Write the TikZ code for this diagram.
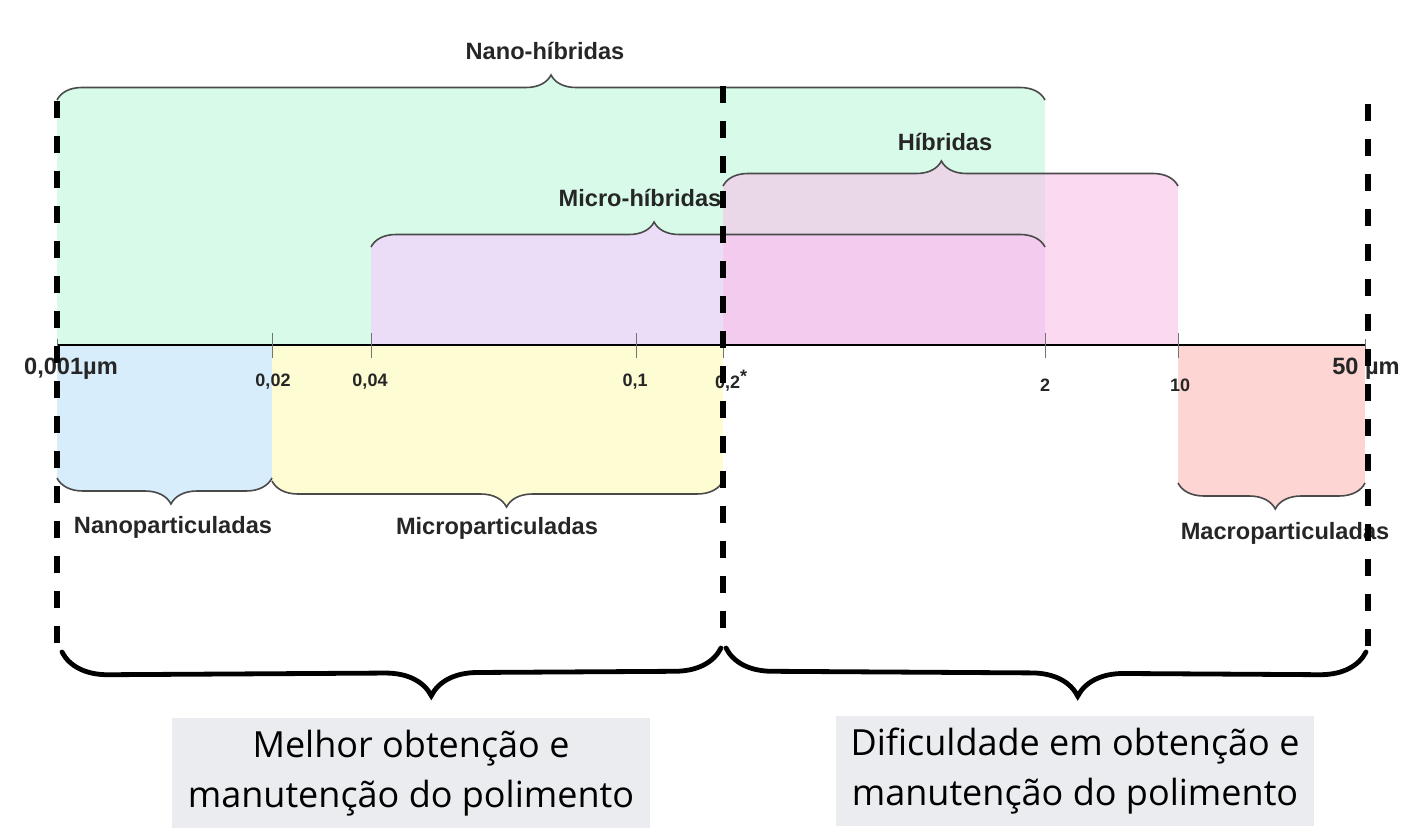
\documentclass[tikz,border=0pt]{standalone}
\usepackage{fontspec}
\setmainfont{Liberation Sans}
\newfontfamily\notefont{Open Sans}
\usepackage{xcolor}
\usetikzlibrary{decorations.pathreplacing, positioning}

\definecolor{nanofill}{HTML}{D8FBE9}
\definecolor{microfill}{HTML}{EBDDF8}
\definecolor{hibfill}{HTML}{F7C0E8}
\definecolor{nanopfill}{HTML}{D8EDFB}
\definecolor{micropfill}{HTML}{FEFCD3}
\definecolor{macropfill}{HTML}{FDD5D2}
\definecolor{notegray}{HTML}{EBECEF}
\definecolor{bracegray}{HTML}{4A4A4A}

\begin{document}
\begin{tikzpicture}[x=0.5pt, y=-0.5pt,
    every node/.style={font=\bfseries\fontsize{11.8}{13}\selectfont, text=black!85, inner sep=0pt},
    upbrace/.style={decorate, decoration={brace, amplitude=12.5pt, aspect=#1}},
    upbrace/.default=0.5,
    downbrace/.style={decorate, decoration={brace, mirror, amplitude=13pt, aspect=#1}},
    downbrace/.default=0.52,
    bracestroke/.style={draw=bracegray, line width=0.8pt},
    tick/.style={draw=black!55, line width=0.5pt},
    ticklabel/.style={font=\bfseries\fontsize{9}{10}\selectfont},
    divider/.style={line width=3pt, dash pattern=on 8.5pt off 9pt},
    bigbrace/.style={line width=2.4pt, line cap=round, decorate,
      decoration={brace, mirror, amplitude=23pt, aspect=#1}},
    note/.style={fill=notegray, minimum width=239pt, minimum height=55pt, align=center,
      text=black, font=\notefont\fontsize{18}{25}\selectfont},
  ]
  \useasboundingbox (0,0) rectangle (1416,834);

  % axis points
  \coordinate (a001) at (57,345);
  \coordinate (a002) at (272,345);
  \coordinate (a004) at (371,345);
  \coordinate (a01) at (636,345);
  \coordinate (a02) at (723,345);
  \coordinate (a2) at (1045,345);
  \coordinate (a10) at (1178,345);
  \coordinate (a50) at (1365,345);

  % ranges above the axis
  \fill[nanofill, upbrace] (57,100) -- (1045,100);
  \fill[nanofill] (57,100) rectangle (a2);
  \fill[microfill, upbrace=0.42] (371,247) -- (1045,247);
  \fill[microfill] (371,247) rectangle (a2);
  \fill[hibfill, fill opacity=0.6, upbrace=0.48] (723,186) -- (1178,186);
  \fill[hibfill, fill opacity=0.6] (723,186) rectangle (a10);

  % ranges below the axis
  \fill[nanopfill, downbrace=0.53] (57,478) -- (272,478);
  \fill[nanopfill] (a001) rectangle (272,478);
  \fill[micropfill, downbrace] (272,481) -- (723,481);
  \fill[micropfill] (a002) rectangle (723,481);
  \fill[macropfill, downbrace] (1178,483) -- (1365,483);
  \fill[macropfill] (a10) rectangle (1365,483);

  % braces
  \draw[bracestroke, upbrace] (57,100) -- (1045,100);
  \draw[bracestroke, upbrace=0.42] (371,247) -- (1045,247);
  \draw[bracestroke, upbrace=0.48] (723,186) -- (1178,186);
  \draw[bracestroke, downbrace=0.53] (57,478) -- (272,478);
  \draw[bracestroke, downbrace] (272,481) -- (723,481);
  \draw[bracestroke, downbrace] (1178,483) -- (1365,483);

  \node (nanoh) at (545,51) {Nano-híbridas};
  \node (microh) at (640,198) {Micro-híbridas};
  \node (hib) at (945,142) {Híbridas};
  \node (nanop) at (173,527) {Nanoparticuladas};
  \node (microp) at (497,528) {Microparticuladas};
  \node (macrop) at (1285,533) {Macroparticuladas};

  % axis
  \draw[line width=1pt] (a001) -- (a50);
  \foreach \t in {a002,a004,a01,a02,a2,a10}
    \draw[tick] ([yshift=6pt]\t) -- ([yshift=-6.5pt]\t);
  \foreach \t in {a001,a50}
    \draw[tick] ([yshift=3pt]\t) -- ([yshift=-3pt]\t);

  \node (l001) at (71,369) {0,001µm};
  \node[ticklabel] (l002) at (273,382) {0,02};
  \node[ticklabel] (l004) at (370,382) {0,04};
  \node[ticklabel] (l01) at (635,382) {0,1};
  \node[ticklabel] (l02) at (731,381) {0,2\raisebox{3pt}{*}};
  \node[ticklabel] (l2) at (1045,385) {2};
  \node[ticklabel] (l10) at (1180,385) {10};
  \node (l50) at (1366,369) {50 µm};

  % limits
  \coordinate (d1t) at (57,101);
  \coordinate (d1b) at (57,652);
  \coordinate (d2t) at (723,86);
  \coordinate (d2b) at (723,645);
  \coordinate (d3t) at (1368,104);
  \coordinate (d3b) at (1368,652);
  \draw[divider] (d1t) -- (d1b);
  \draw[divider] (d2t) -- (d2b);
  \draw[divider] (d3t) -- (d3b);

  % conclusions
  \coordinate (b1l) at (62,652);
  \coordinate (b1r) at (721,648);
  \coordinate (b2l) at (726,648);
  \coordinate (b2r) at (1366,652);
  \draw[bigbrace=0.56] (b1l) -- (b1r);
  \draw[bigbrace=0.55] (b2l) -- (b2r);

  \node[note] (better) at (411,773) {Melhor obtenção e\\manutenção do polimento};
  \node[note] (harder) at (1075,771) {Dificuldade em obtenção e\\manutenção do polimento};
\end{tikzpicture}
\end{document}
